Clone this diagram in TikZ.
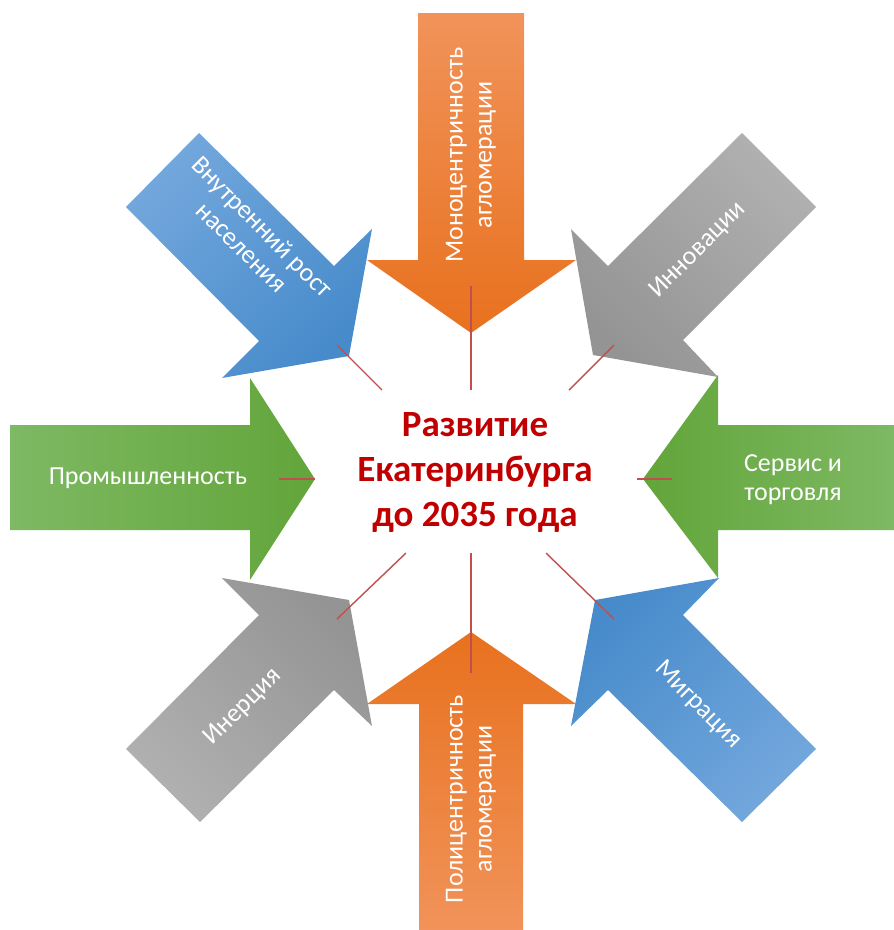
\documentclass[tikz,border=0pt]{standalone}
\usepackage{fontspec}
\setmainfont{Carlito}
\definecolor{orL}{HTML}{F1935A}
\definecolor{orD}{HTML}{E8711E}
\definecolor{grL}{HTML}{7EB963}
\definecolor{grD}{HTML}{62A53A}
\definecolor{blL}{HTML}{72A7DC}
\definecolor{blD}{HTML}{478BCB}
\definecolor{gyL}{HTML}{B0B0B0}
\definecolor{gyD}{HTML}{949494}
\definecolor{spoke}{HTML}{C0504D}
\definecolor{titlered}{HTML}{C00000}
\tikzset{
  arrowlabel/.style={text=white, font=\fontsize{26}{29}\selectfont, align=center, inner sep=0pt},
  spokeline/.style={draw=spoke, line width=1.4pt},
  titletext/.style={text=titlered, font=\bfseries\fontsize{37}{45}\selectfont, align=center, inner sep=0pt}
}
\begin{document}
\begin{tikzpicture}[x=1pt,y=-1pt]
\useasboundingbox (0,0) rectangle (894,930);
% diagonal arrows
\path[top color=blL, bottom color=blD, shading angle=45]
  (199,133) -- (334,266) -- (372,229) -- (349,356) -- (222,378) -- (259,341) -- (126,207) -- cycle;
\path[top color=gyL, bottom color=gyD, shading angle=-45]
  (742,133) -- (608,266) -- (571,229) -- (593,355) -- (718,377) -- (683,340) -- (816,207) -- cycle;
\path[top color=blL, bottom color=blD, shading angle=-135]
  (816,749) -- (683,615) -- (719,578) -- (595,600) -- (571,726) -- (608,690) -- (742,822) -- cycle;
\path[top color=gyL, bottom color=gyD, shading angle=135]
  (126,749) -- (259,615) -- (222,578) -- (349,600) -- (372,726) -- (334,690) -- (200,822) -- cycle;
% axis arrows
\path[top color=orL, bottom color=orD]
  (418,13) -- (524,13) -- (524,260) -- (576,260) -- (471,333) -- (367,260) -- (418,260) -- cycle;
\path[top color=orD, bottom color=orL]
  (419,931) -- (419,704) -- (367,704) -- (471,632) -- (576,704) -- (523,704) -- (523,931) -- cycle;
\path[left color=grL, right color=grD]
  (10,425) -- (250,425) -- (250,378) -- (315,479) -- (250,580) -- (250,530) -- (10,530) -- cycle;
\path[left color=grD, right color=grL]
  (895,425) -- (718,425) -- (718,375) -- (643,479) -- (718,578) -- (718,530) -- (895,530) -- cycle;
% spokes
\coordinate (tA) at (471,286); \coordinate (tB) at (471,390);
\coordinate (bA) at (471,553); \coordinate (bB) at (471,673);
\coordinate (lA) at (279,479); \coordinate (lB) at (315,479);
\coordinate (rA) at (637,479); \coordinate (rB) at (672,479);
\coordinate (tlA) at (337,345); \coordinate (tlB) at (382,390);
\coordinate (trA) at (614,345); \coordinate (trB) at (569,390);
\coordinate (blA) at (406,553); \coordinate (blB) at (337,619);
\coordinate (brA) at (546,553); \coordinate (brB) at (614,619);
\draw[spokeline] (tA) -- (tB);
\draw[spokeline] (bA) -- (bB);
\draw[spokeline] (lA) -- (lB);
\draw[spokeline] (rA) -- (rB);
\draw[spokeline] (tlA) -- (tlB);
\draw[spokeline] (trA) -- (trB);
\draw[spokeline] (blA) -- (blB);
\draw[spokeline] (brA) -- (brB);
% labels
\node[titletext] (center) at (475,472) {Развитие\\Екатеринбурга\\до 2035 года};
\node[arrowlabel, rotate=90] (mono) at (471,155) {Моноцентричность\\агломерации};
\node[arrowlabel, rotate=90] (poly) at (471,799) {Полицентричность\\агломерации};
\node[arrowlabel] (prom) at (148,478) {Промышленность};
\node[arrowlabel] (serv) at (793,480) {Сервис и\\торговля};
\node[arrowlabel, rotate=-45] (vnut) at (252,237) {Внутренний рост\\населения};
\node[arrowlabel, rotate=45] (innov) at (698,250) {Инновации};
\node[arrowlabel, rotate=-45] (migr) at (698,705) {Миграция};
\node[arrowlabel, rotate=45] (iner) at (243,707) {Инерция};
\end{tikzpicture}
\end{document}
